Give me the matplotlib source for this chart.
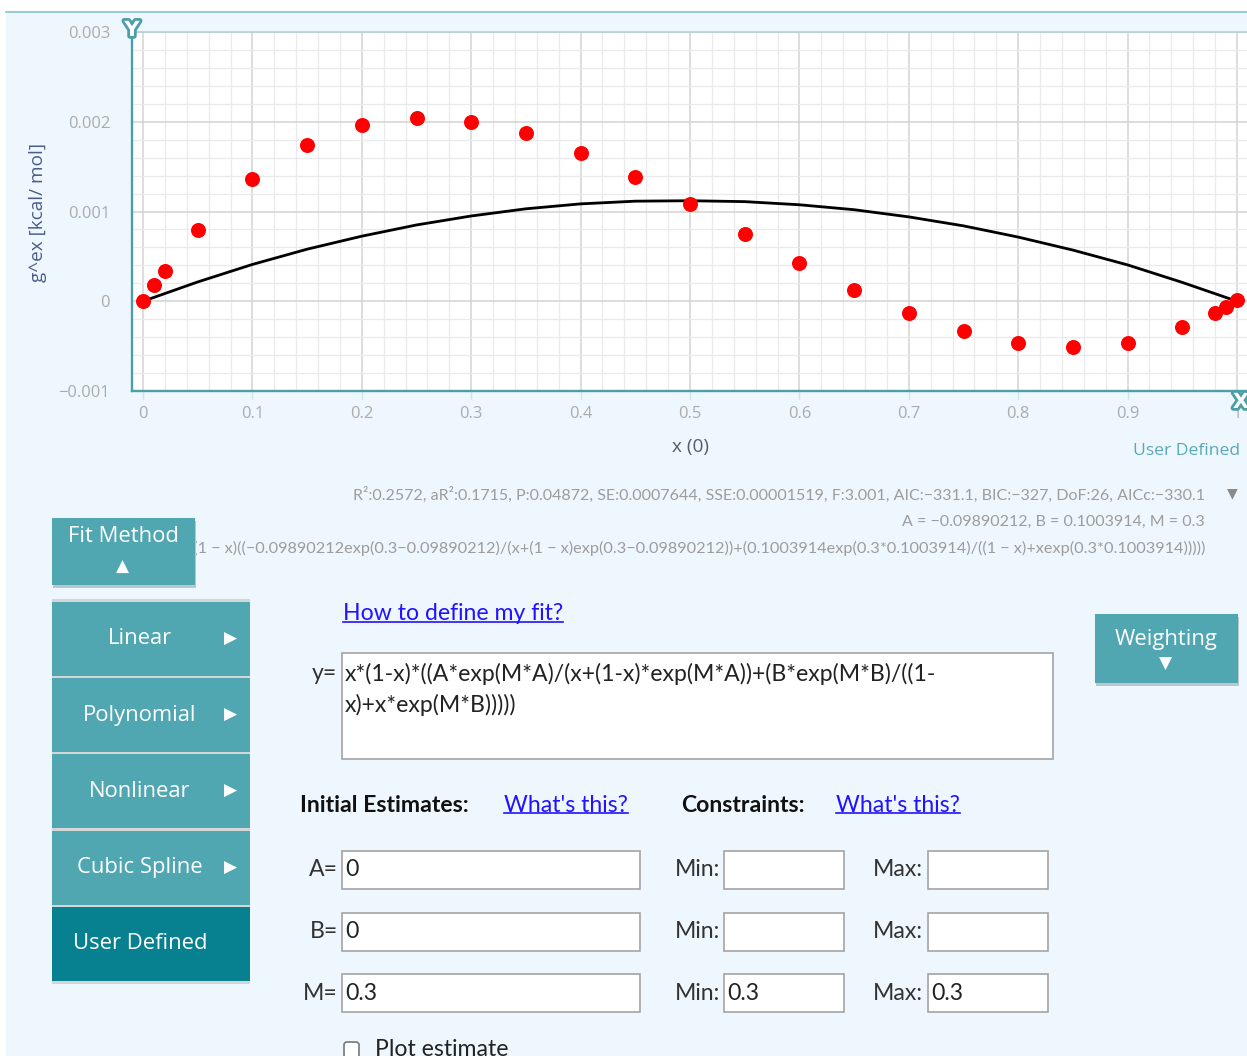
import matplotlib

matplotlib.use("Agg")
import matplotlib.patheffects as pe
import matplotlib.pyplot as plt
from matplotlib.patches import FancyBboxPatch, Rectangle
from matplotlib.ticker import MultipleLocator

W, H = 1247, 1056
DPI = 100

# measured points, g^ex [kcal/mol]
x_data = [0, 0.01, 0.02, 0.05, 0.1, 0.15, 0.2, 0.25, 0.3, 0.35, 0.4, 0.45, 0.5,
          0.55, 0.6, 0.65, 0.7, 0.75, 0.8, 0.85, 0.9, 0.95, 0.98, 0.99, 1.0]
y_data = [0.0, 0.00018, 0.00034, 0.00079, 0.00136, 0.00174, 0.00196, 0.00204,
          0.00200, 0.00187, 0.00165, 0.00138, 0.00108, 0.00075, 0.00043,
          0.00013, -0.00013, -0.00033, -0.00046, -0.00051, -0.00046,
          -0.00029, -0.00013, -0.00006, 0.00001]

# fitted curve
x_fit = [0, 0.05, 0.1, 0.15, 0.2, 0.25, 0.3, 0.35, 0.4, 0.45, 0.5,
         0.55, 0.6, 0.65, 0.7, 0.75, 0.8, 0.85, 0.9, 0.95, 1.0]
y_fit = [0.0, 0.000215, 0.00041, 0.00058, 0.000725, 0.00085, 0.00095, 0.00103,
         0.001085, 0.001115, 0.00112, 0.00111, 0.001075, 0.00102, 0.00094,
         0.00084, 0.000715, 0.00057, 0.000405, 0.00021, 0.0]

x_ticks = [0, 0.1, 0.2, 0.3, 0.4, 0.5, 0.6, 0.7, 0.8, 0.9, 1.0]
x_tick_labels = ["0", "0.1", "0.2", "0.3", "0.4", "0.5", "0.6", "0.7", "0.8", "0.9", "1"]
y_ticks = [-0.001, 0, 0.001, 0.002, 0.003]
y_tick_labels = ["\u22120.001", "0", "0.001", "0.002", "0.003"]

stats_text = ("R\u00b2:0.2572, aR\u00b2:0.1715, P:0.04872, SE:0.0007644, SSE:0.00001519, "
              "F:3.001, AIC:\u2212331.1, BIC:\u2212327, DoF:26, AICc:\u2212330.1")
params_text = "A = \u22120.09890212, B = 0.1003914, M = 0.3"
fit_text = ("y = x(1 \u2212 x)((\u22120.09890212exp(0.3\u22120.09890212)/(x+(1 \u2212 x)"
            "exp(0.3\u22120.09890212))+(0.1003914exp(0.3*0.1003914)/((1 \u2212 x)+"
            "xexp(0.3*0.1003914)))))")

menu_items = ["Linear", "Polynomial", "Nonlinear", "Cubic Spline", "User Defined"]
formula_lines = ["x*(1-x)*((A*exp(M*A)/(x+(1-x)*exp(M*A))+(B*exp(M*B)/((1-",
                 "x)+x*exp(M*B)))))"]
param_names = ["A", "B", "M"]
param_init = ["0", "0", "0.3"]
param_min = ["", "", "0.3"]
param_max = ["", "", "0.3"]

PAGE = "#eff7fe"
TEAL = "#50a7b2"
TEAL_DARK = "#07818f"
AXIS_TEAL = "#4c9ea8"
LINK = "#2212ff"
UI_FONT = "Open Sans"
FORM_FONT = "Lato"
FORM_PX = 23
BTN_PX = 22


def pt(px):
    return px * 72 / DPI


fig = plt.figure(figsize=(W / DPI, H / DPI), dpi=DPI)
fig.patch.set_facecolor("white")

bg = fig.add_axes([0, 0, 1, 1])
bg.set_xlim(0, W)
bg.set_ylim(H, 0)
bg.axis("off")

bg.add_patch(Rectangle((6, 12), W, H, facecolor=PAGE, edgecolor="none", zorder=0))
bg.plot([6, W], [12, 12], color="#86c3cb", lw=1.2, zorder=1)

# ---- chart ----
x0_px, x1_px = 143, 1237
xlim = (-0.01, 1.02)
ax_left = x0_px + xlim[0] * (x1_px - x0_px)
ax_right = x0_px + xlim[1] * (x1_px - x0_px)
ax_top, ax_bottom = 32, 391
ax = fig.add_axes([ax_left / W, 1 - ax_bottom / H, (ax_right - ax_left) / W,
                   (ax_bottom - ax_top) / H])
ax.set_facecolor("white")
ax.set_xlim(*xlim)
ax.set_ylim(-0.001, 0.003)

ax.set_xticks(x_ticks, x_tick_labels)
ax.set_yticks(y_ticks, y_tick_labels)
ax.xaxis.set_minor_locator(MultipleLocator(0.02))
ax.yaxis.set_minor_locator(MultipleLocator(0.0002))
ax.grid(which="major", color="#d3d3d3", lw=1.1)
ax.grid(which="minor", color="#eaeaea", lw=0.9)
ax.set_axisbelow(True)
ax.tick_params(which="minor", length=0)
ax.tick_params(axis="x", which="major", length=pt(8), color="#cfe2ee", width=1,
               pad=pt(7), labelsize=pt(16.5), labelcolor="#ababab")
ax.tick_params(axis="y", which="major", length=0, pad=pt(22),
               labelsize=pt(16.5), labelcolor="#ababab")
for lab in ax.get_xticklabels() + ax.get_yticklabels():
    lab.set_family(UI_FONT)

ax.spines["right"].set_visible(False)
ax.spines["top"].set_color("#b4cfd4")
ax.spines["top"].set_linewidth(1.2)
for side in ("left", "bottom"):
    ax.spines[side].set_color(AXIS_TEAL)
    ax.spines[side].set_linewidth(1.7)

ax.plot(x_fit, y_fit, color="black", lw=pt(2.8), solid_capstyle="round", zorder=3)
ax.plot(x_data, y_data, "o", color="#ff0000", markersize=pt(15), mec="none", zorder=4)


def ftext(x, y, s, **kw):
    return fig.text(x / W, 1 - y / H, s, **kw)


marker_fx = [pe.withStroke(linewidth=4, foreground=AXIS_TEAL)]
ftext(132, 30, "Y", ha="center", va="center", fontsize=15, fontweight="bold",
      color="white", family="DejaVu Sans", path_effects=marker_fx)
ftext(1241, 402, "X", ha="center", va="center", fontsize=15, fontweight="bold",
      color="white", family="DejaVu Sans", path_effects=marker_fx)

bg.text(38, 212, "g^ex [kcal/ mol]", rotation=90, ha="center", va="center",
        fontsize=pt(19), color="#4b5b8b", family=UI_FONT)
bg.text(690, 447, "x (0)", ha="center", va="center", fontsize=pt(19),
        color="#565b6b", family=UI_FONT)
bg.text(1240, 451, "User Defined", ha="right", va="center", fontsize=pt(17.5),
        color="#5aa9b8", family=UI_FONT)

# ---- fit summary ----
bg.text(1205, 495, stats_text, ha="right", va="center", fontsize=pt(16),
        color="#9c9c9c", family=FORM_FONT, zorder=2)
bg.text(1232, 493, "\u25bc", ha="center", va="center", fontsize=pt(14),
        color="#8a8a8a", family="DejaVu Sans")
bg.text(1205, 522, params_text, ha="right", va="center", fontsize=pt(16),
        color="#9c9c9c", family=FORM_FONT, zorder=2)
bg.text(1205, 548, fit_text, ha="right", va="center", fontsize=pt(16.3),
        color="#9c9c9c", family=FORM_FONT, zorder=2)


def button(l, t, r, b, color, shadow=False):
    if shadow:
        bg.add_patch(Rectangle((l + 1, t + 3), r - l, b - t, facecolor="#8da2a7",
                               alpha=0.55, edgecolor="none", zorder=4))
    bg.add_patch(Rectangle((l, t), r - l, b - t, facecolor=color,
                           edgecolor="none", zorder=5))


# Fit Method button (covers the start of the fit line)
bg.add_patch(Rectangle((6, 534), 190, 28, facecolor=PAGE, edgecolor="none", zorder=3))
button(52, 518, 195, 585, TEAL, shadow=True)
bg.text(123, 537, "Fit Method", ha="center", va="center", fontsize=pt(BTN_PX),
        color="white", family=UI_FONT, zorder=6)
bg.text(123, 567, "\u25b2", ha="center", va="center", fontsize=pt(17),
        color="white", family="DejaVu Sans", zorder=6)

# fit-method menu
item_h = 74
item_gap = 2.2
bg.add_patch(Rectangle((52, 599), 198, 385, facecolor="#d3d7d8", edgecolor="none", zorder=4))
for i, name in enumerate(menu_items):
    top = 602 + i * (item_h + item_gap)
    active = name == "User Defined"
    button(52, top, 250, top + item_h, TEAL_DARK if active else TEAL)
    cy = top + item_h / 2
    bg.text(140, cy, name, ha="center", va="center", fontsize=pt(BTN_PX),
            color="white", family=UI_FONT, zorder=6)
    if not active:
        bg.text(231, cy, "\u25b6", ha="center", va="center", fontsize=pt(17),
                color="white", family="DejaVu Sans", zorder=6)

# Weighting button
button(1095, 614, 1238, 683, TEAL, shadow=True)
bg.text(1166, 640, "Weighting", ha="center", va="center", fontsize=pt(BTN_PX),
        color="white", family=UI_FONT, zorder=6)
bg.text(1166, 664, "\u25bc", ha="center", va="center", fontsize=pt(17),
        color="white", family="DejaVu Sans", zorder=6)

# ---- user defined form ----
links = []
links.append(bg.text(343, 614, "How to define my fit?", ha="left", va="center",
                     fontsize=pt(FORM_PX), color=LINK, family=FORM_FONT))

bg.text(337, 674, "y=", ha="right", va="center", fontsize=pt(FORM_PX),
        color="#333333", family=FORM_FONT)
bg.add_patch(Rectangle((342, 653), 711, 106, facecolor="white",
                       edgecolor="#a3a3a3", lw=1.2, zorder=2))
for i, line in enumerate(formula_lines):
    bg.text(345, 674 + i * 30.5, line, ha="left", va="center", fontsize=pt(FORM_PX),
            color="#222222", family=FORM_FONT, zorder=3)

bg.text(300, 805, "Initial Estimates:", ha="left", va="center", fontsize=pt(FORM_PX),
        color="#111111", family=FORM_FONT, fontweight="bold")
links.append(bg.text(504, 805, "What's this?", ha="left", va="center",
                     fontsize=pt(FORM_PX), color=LINK, family=FORM_FONT))
bg.text(681, 805, "Constraints:", ha="left", va="center", fontsize=pt(FORM_PX),
        color="#111111", family=FORM_FONT, fontweight="bold")
links.append(bg.text(836, 805, "What's this?", ha="left", va="center",
                     fontsize=pt(FORM_PX), color=LINK, family=FORM_FONT))


def input_box(l, t, r, b, value):
    bg.add_patch(Rectangle((l, t), r - l, b - t, facecolor="white",
                           edgecolor="#a3a3a3", lw=1.2, zorder=2))
    if value:
        bg.text(l + 3, (t + b) / 2, value, ha="left", va="center",
                fontsize=pt(FORM_PX), color="#222222", family=FORM_FONT, zorder=3)


for i, name in enumerate(param_names):
    t = 851 + i * 61.5
    b = t + 38
    cy = (t + b) / 2
    bg.text(338, cy, name + "=", ha="right", va="center", fontsize=pt(FORM_PX),
            color="#333333", family=FORM_FONT)
    input_box(342, t, 640, b, param_init[i])
    bg.text(675, cy, "Min:", ha="left", va="center", fontsize=pt(FORM_PX),
            color="#333333", family=FORM_FONT)
    input_box(724, t, 844, b, param_min[i])
    bg.text(873, cy, "Max:", ha="left", va="center", fontsize=pt(FORM_PX),
            color="#333333", family=FORM_FONT)
    input_box(928, t, 1048, b, param_max[i])

bg.add_patch(FancyBboxPatch((344, 1042), 15, 16, boxstyle="round,pad=0,rounding_size=3",
                            facecolor="white", edgecolor="#777777", lw=1.2, zorder=2))
bg.text(375, 1050, "Plot estimate", ha="left", va="center", fontsize=pt(FORM_PX),
        color="#222222", family=FORM_FONT)

# underline the links
renderer = fig.canvas.get_renderer()
inv = bg.transData.inverted()
for t in links:
    bb = t.get_window_extent(renderer)
    (xa, ya), (xb, yb) = inv.transform([[bb.x0, bb.y0], [bb.x1, bb.y1]])
    uy = max(ya, yb) - 3
    bg.plot([xa, xb], [uy, uy], color=LINK, lw=1.2)

fig.savefig("out.png", dpi=DPI, facecolor=fig.get_facecolor())
